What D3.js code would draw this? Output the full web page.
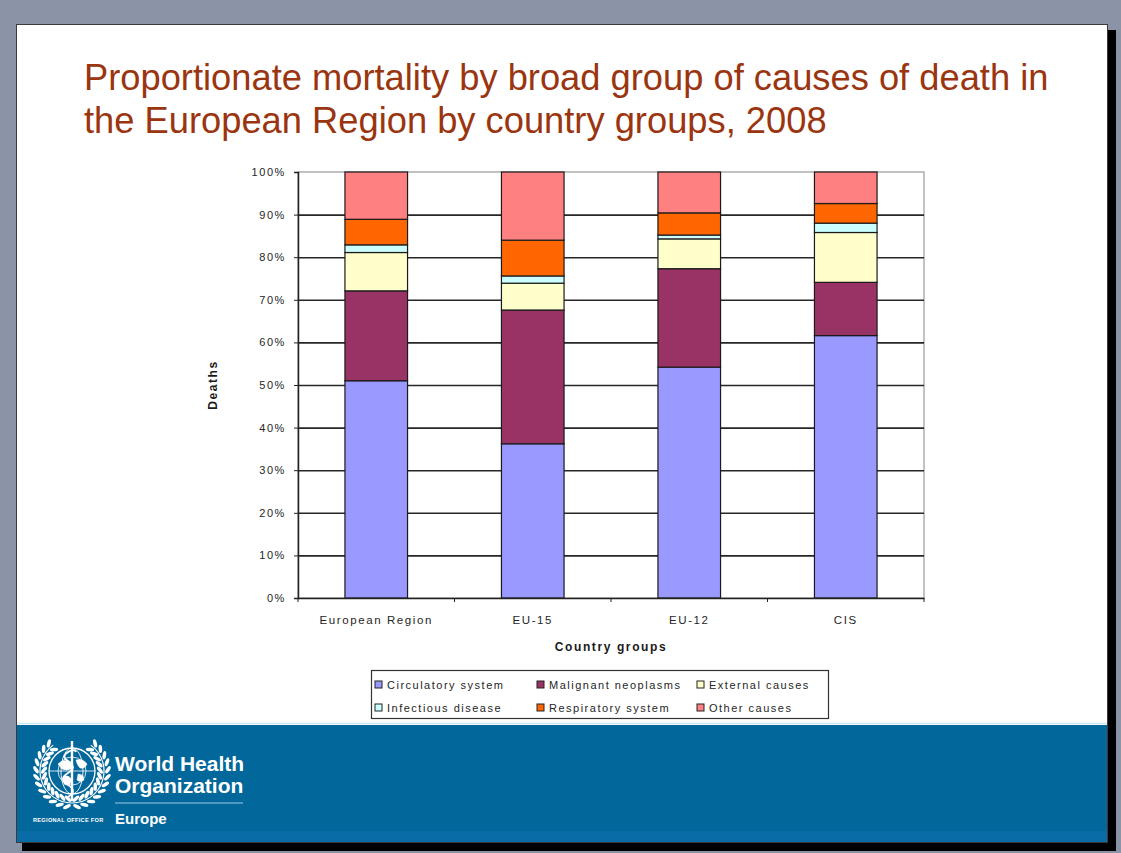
<!DOCTYPE html>
<html>
<head>
<meta charset="utf-8">
<script src="https://cdn.jsdelivr.net/npm/d3@7"></script>
<style>
  body { margin: 0; background: #8b94a7; }
  svg { display: block; font-family: Arial, "Liberation Sans", sans-serif; }
  .grid line { stroke: #262626; stroke-width: 1.6; }
  .grid path { display: none; }
  .axis path, .axis line { stroke: #222; }
  .axis text { fill: #262626; font-size: 11px; letter-spacing: 1.6px; }
</style>
</head>
<body>
<div id="chart"></div>
<script>
/* globals d3 */
var categories = ['European Region', 'EU-15', 'EU-12', 'CIS'];
var causes = ['Circulatory system', 'Malignant neoplasms', 'External causes',
              'Infectious disease', 'Respiratory system', 'Other causes'];
var circulatory = [51.0, 36.2, 54.2, 61.6];
var malignant   = [21.1, 31.4, 23.1, 12.5];
var external    = [9.0, 6.3, 7.0, 11.7];
var infectious  = [1.8, 1.7, 0.9, 2.2];
var respiratory = [6.0, 8.4, 5.2, 4.6];
var other       = [11.1, 16.0, 9.6, 7.4];
var colors = ['#9999ff', '#993366', '#ffffcc', '#ccffff', '#ff6600', '#ff8080'];
var yTicks = [0, 0.1, 0.2, 0.3, 0.4, 0.5, 0.6, 0.7, 0.8, 0.9, 1];

var Chart = function(config){
    this.setup(config);
};

Chart.prototype = {
    setup(config){
        this.margin = config.margin;
        this.svg = d3.select(config.container)
            .append('svg')
            .attr('width', config.width)
            .attr('height', config.height);

        this.drawSlide();
        this.drawBars();
        this.drawLegend();
        this.drawLogo();
    },
    drawSlide(){
        var svg = this.svg;
        // drop shadow + slide
        svg.append('rect').attr('x', 22).attr('y', 30).attr('width', 1094).attr('height', 821).attr('fill', '#000');
        svg.append('rect').attr('x', 16.5).attr('y', 24.5).attr('width', 1091).attr('height', 818)
            .attr('fill', '#fff').attr('stroke', '#3a3a3a').attr('stroke-width', 1);
        svg.append('rect').attr('x', 17).attr('y', 725).attr('width', 1090).attr('height', 117).attr('fill', '#02679b');
        svg.append('rect').attr('x', 17).attr('y', 831).attr('width', 1090).attr('height', 11).attr('fill', '#0a6ca6');
        svg.append('line').attr('x1', 17).attr('x2', 1107).attr('y1', 723.5).attr('y2', 723.5)
            .attr('stroke', '#c8e8f4').attr('stroke-width', 1.5);

        var title = svg.append('text')
            .attr('fill', '#9a3510')
            .style('font-size', '36.3px');
        title.append('tspan').attr('x', 84).attr('y', 90)
            .text('Proportionate mortality by broad group of causes of death in');
        title.append('tspan').attr('x', 84).attr('y', 133)
            .text('the European Region by country groups, 2008');
    },
    drawBars(){
        var m = this.margin;
        var svg = this.svg;
        var rows = categories.map((c, i) => ({
            cat: c,
            'Circulatory system': circulatory[i],
            'Malignant neoplasms': malignant[i],
            'External causes': external[i],
            'Infectious disease': infectious[i],
            'Respiratory system': respiratory[i],
            'Other causes': other[i]
        }));
        var series = d3.stack().keys(causes).offset(d3.stackOffsetExpand)(rows);

        var x = d3.scaleBand().domain(categories)
            .range([m.left, m.right])
            .paddingInner(0.6).paddingOuter(0.3);
        var y = d3.scaleLinear().domain([0, 1]).range([m.bottom, m.top]);

        // plot area frame
        svg.append('rect')
            .attr('x', m.left).attr('y', m.top)
            .attr('width', m.right - m.left).attr('height', m.bottom - m.top)
            .attr('fill', '#fff').attr('stroke', '#9a9a9a').attr('stroke-width', 1.2);

        svg.append('g')
            .attr('class', 'grid')
            .attr('transform', 'translate(' + m.left + ',0)')
            .call(d3.axisLeft(y).tickValues(yTicks.slice(1, -1)).tickSize(-(m.right - m.left)).tickFormat(''));

        svg.append('g').selectAll('g')
            .data(series)
            .join('g')
            .attr('fill', (d, i) => colors[i])
            .selectAll('rect')
            .data(d => d)
            .join('rect')
            .attr('x', d => x(d.data.cat))
            .attr('y', d => y(d[1]))
            .attr('width', x.bandwidth())
            .attr('height', d => y(d[0]) - y(d[1]))
            .attr('stroke', '#1a1a1a')
            .attr('stroke-width', 1.2);

        var yAxis = svg.append('g')
            .attr('class', 'axis')
            .attr('transform', 'translate(' + m.left + ',0)')
            .call(d3.axisLeft(y).tickValues(yTicks).tickFormat(d3.format('.0%')).tickSize(4).tickPadding(8));
        yAxis.select('.domain').attr('stroke-width', 1.5);

        var xAxis = svg.append('g')
            .attr('class', 'axis')
            .attr('transform', 'translate(0,' + m.bottom + ')')
            .call(d3.axisBottom(x).tickSize(0).tickPadding(18));
        xAxis.select('.domain').attr('stroke-width', 1.5);
        xAxis.selectAll('.tick text').style('font-size', '11.5px');

        // excel style ticks between the categories
        xAxis.selectAll('line.sep')
            .data(d3.range(categories.length + 1))
            .join('line')
            .attr('class', 'sep')
            .attr('x1', i => m.left + i * x.step())
            .attr('x2', i => m.left + i * x.step())
            .attr('y1', 0).attr('y2', 4)
            .attr('stroke', '#222');

        svg.append('text')
            .attr('x', (m.left + m.right) / 2).attr('y', 651)
            .attr('text-anchor', 'middle')
            .style('font-size', '12px').style('font-weight', 'bold').style('letter-spacing', '1.6px')
            .attr('fill', '#1a1a1a')
            .text('Country groups');

        svg.append('text')
            .attr('transform', 'translate(217,' + ((m.top + m.bottom) / 2) + ') rotate(-90)')
            .attr('text-anchor', 'middle')
            .style('font-size', '12px').style('font-weight', 'bold').style('letter-spacing', '1.6px')
            .attr('fill', '#1a1a1a')
            .text('Deaths');
    },
    drawLegend(){
        var svg = this.svg;
        svg.append('rect')
            .attr('x', 371.5).attr('y', 670.5).attr('width', 457).attr('height', 48)
            .attr('fill', '#fff').attr('stroke', '#333').attr('stroke-width', 1.2);

        var cols = [375, 537, 697];
        var item = svg.append('g').selectAll('g')
            .data(causes)
            .join('g')
            .attr('transform', (d, i) => 'translate(' + cols[i % 3] + ',' + (i < 3 ? 685 : 708) + ')');
        item.append('rect')
            .attr('x', 0).attr('y', -4).attr('width', 7).attr('height', 7)
            .attr('fill', (d, i) => colors[i]).attr('stroke', '#222').attr('stroke-width', 1);
        item.append('text')
            .attr('x', 12).attr('y', 4)
            .style('font-size', '11px').style('letter-spacing', '1.5px')
            .attr('fill', '#262626')
            .text(d => d);
    },
    drawLogo(){
        var g = this.svg.append('g').attr('fill', 'none').attr('stroke', '#fff');
        var cx = 72, cy = 771;
        // globe
        g.append('circle').attr('cx', cx).attr('cy', cy).attr('r', 23).attr('stroke-width', 1.3);
        g.append('ellipse').attr('cx', cx).attr('cy', cy).attr('rx', 11).attr('ry', 23).attr('stroke-width', 0.9);
        g.append('circle').attr('cx', cx).attr('cy', cy).attr('r', 14).attr('stroke-width', 0.8);
        g.append('line').attr('x1', cx - 23).attr('x2', cx + 23).attr('y1', cy).attr('y2', cy).attr('stroke-width', 0.8);
        // rough continents
        g.append('path')
            .attr('d', 'M58,764 q5,-5 11,-3 q4,4 2,8 q-5,2 -9,0z M76,760 q7,-2 11,4 q-2,5 -7,4 q-3,-3 -4,-8z M64,776 q6,-1 8,5 q-3,6 -8,3z M78,774 q6,0 6,6 q-4,3 -7,0z')
            .attr('fill', '#fff').attr('stroke-width', 0.5);
        // staff and snake
        g.append('line').attr('x1', cx).attr('x2', cx).attr('y1', 741).attr('y2', 801).attr('stroke-width', 2.4);
        g.append('path')
            .attr('d', 'M68,797 q10,-6 0,-12 q-10,-6 0,-12 q10,-6 0,-12 q-8,-5 2,-10 q5,-2 6,1')
            .attr('stroke-width', 1.8);
        // laurel wreath, one leaf at a time
        var R = 32;
        [-1, 1].forEach(side => {
            g.append('path')
                .attr('d', d3.arc()({innerRadius: R - 0.6, outerRadius: R + 0.6,
                    startAngle: side > 0 ? Math.PI * 0.2 : Math.PI * 1.0,
                    endAngle: side > 0 ? Math.PI * 1.0 : Math.PI * 1.8}))
                .attr('transform', 'translate(' + cx + ',' + cy + ')')
                .attr('fill', '#fff').attr('stroke', 'none');
            d3.range(12).forEach(k => {
                var deg = side > 0 ? 40 + k * 12 : 320 - k * 12; // clockwise from top
                var a = deg * Math.PI / 180;
                var px = cx + R * Math.sin(a);
                var py = cy - R * Math.cos(a);
                [-1, 1].forEach(off => {
                    var lx = px + off * 4 * Math.sin(a);
                    var ly = py - off * 4 * Math.cos(a);
                    g.append('ellipse')
                        .attr('cx', lx).attr('cy', ly)
                        .attr('rx', 4.2).attr('ry', 1.8)
                        .attr('fill', '#fff').attr('stroke', 'none')
                        .attr('transform', 'rotate(' + (deg + off * side * 35) + ',' + lx + ',' + ly + ')');
                });
            });
        });

        var t = this.svg.append('g').attr('fill', '#fff').style('font-weight', 'bold');
        t.append('text').attr('x', 115).attr('y', 771).style('font-size', '21px').text('World Health');
        t.append('text').attr('x', 115).attr('y', 793).style('font-size', '21px').text('Organization');
        t.append('line').attr('x1', 115).attr('x2', 243).attr('y1', 803).attr('y2', 803)
            .attr('stroke', '#9cc8e0').attr('stroke-width', 1);
        t.append('text').attr('x', 33).attr('y', 822).style('font-size', '5.6px').style('letter-spacing', '0.3px')
            .text('REGIONAL OFFICE FOR');
        t.append('text').attr('x', 115).attr('y', 824).style('font-size', '15px').text('Europe');
    }
};

new Chart({
    container: '#chart',
    width: 1121,
    height: 853,
    margin: {left: 298, right: 924, top: 172, bottom: 598}
});
</script>
</body>
</html>
